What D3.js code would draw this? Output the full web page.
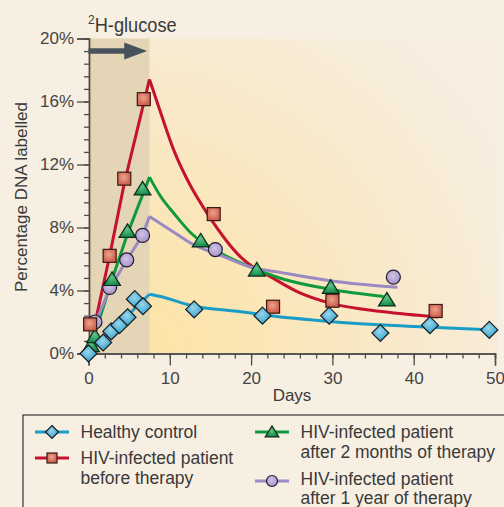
<!DOCTYPE html>
<html><head><meta charset="utf-8">
<script src="https://cdn.jsdelivr.net/npm/d3@7"></script>
<style>
html,body{margin:0;padding:0;background:#f7efe2;}
svg{display:block;font-family:"Liberation Sans",Arial,Helvetica,sans-serif;}
</style></head><body>
<svg id="chart" width="504" height="507"></svg>
<script>
// ---------- DATA ----------
const xTicks = [0, 10, 20, 30, 40, 50];
const yTicks = [0, 4, 8, 12, 16, 20];
const labelPeriodEnd = 7.5; // days of 2H-glucose labelling

const healthyPts = [[0,0],[1.8,0.7],[2.8,1.4],[3.8,1.8],[4.8,2.3],[5.7,3.45],[6.7,3.0],[13,2.8],[21.4,2.4],[29.6,2.4],[35.9,1.3],[42,1.8],[49.3,1.5]];
const healthyCurve = [[0,0],[7.5,3.76],[9,3.6],[12.6,3.05],[18.7,2.65],[25,2.25],[30,2.02],[40,1.72],[50,1.49]];

const beforePts = [[0.2,1.85],[2.6,6.2],[4.4,11.1],[6.8,16.15],[15.4,8.85],[22.7,2.97],[30,3.35],[42.7,2.7]];
const beforeCurve = [[0,0],[2.6,6.2],[4.4,10.8],[7.5,17.4],[8.9,15.25],[10.5,12.9],[12.6,10.6],[14.6,8.9],[18.7,6.14],[19.9,5.62],[22.3,4.9],[26,3.85],[29.7,3.2],[36.3,2.65],[43,2.32]];

const twoMonthPts = [[0.3,0.5],[0.8,1.07],[2.9,4.7],[4.8,7.75],[6.65,10.45],[13.8,7.15],[20.7,5.3],[29.8,4.2],[36.7,3.4]];
const twoMonthCurve = [[0,0],[2.9,4.7],[4.8,7.6],[7.5,11.2],[8.9,9.95],[10.5,8.9],[12.6,7.65],[16.7,6.25],[19.9,5.5],[23.6,4.78],[29.7,4.08],[36.3,3.62]];

const oneYearPts = [[0.8,2.0],[2.6,4.2],[4.7,5.94],[6.65,7.5],[15.6,6.6],[37.5,4.85]];
const oneYearCurve = [[0,0],[0.8,1.9],[2.6,4.1],[4.7,5.94],[6.65,7.5],[7.5,8.7],[10.5,7.7],[12.6,7.0],[16.7,6.14],[19.9,5.5],[23.6,5.15],[29.7,4.62],[38,4.2]];

const seriesNames = ["Healthy control","HIV-infected patient|before therapy","HIV-infected patient|after 2 months of therapy","HIV-infected patient|after 1 year of therapy"];

// ---------- SETUP ----------
const svg = d3.select("#chart");
const x = d3.scaleLinear().domain([0,50]).range([88.5,495]);
const y = d3.scaleLinear().domain([0,20]).range([353.5,38.5]);

const defs = svg.append("defs");
const bg = defs.append("radialGradient").attr("id","plotbg")
  .attr("gradientUnits","userSpaceOnUse").attr("cx",130).attr("cy",360).attr("r",420);
bg.append("stop").attr("offset","0").attr("stop-color","#fde3a4");
bg.append("stop").attr("offset","0.55").attr("stop-color","#f9e8c4");
bg.append("stop").attr("offset","1").attr("stop-color","#f7eee0");

function grad(id, c0, c1){
  const g = defs.append("radialGradient").attr("id",id).attr("cx","45%").attr("cy","40%").attr("r","60%");
  g.append("stop").attr("offset","0").attr("stop-color",c0);
  g.append("stop").attr("offset","1").attr("stop-color",c1);
}
grad("gBlue","#9ad6ec","#32a2cc");
grad("gRed","#eca48e","#cc5a48");
grad("gGreen","#5cc488","#14894a");
grad("gPurple","#d2c4e6","#a493c8");

// plot area background
svg.append("rect").attr("x",x(0)).attr("y",y(20)).attr("width",498-x(0)).attr("height",y(0)-y(20)).attr("fill","url(#plotbg)");
svg.append("rect").attr("x",x(0)).attr("y",y(20)).attr("width",x(labelPeriodEnd)-x(0)).attr("height",y(0)-y(20)).attr("fill","#e3d5b6");

// arrow
const ay = 51;
svg.append("line").attr("x1",x(0)).attr("x2",x(4.8)).attr("y1",ay).attr("y2",ay).attr("stroke","#48525c").attr("stroke-width",5.5);
svg.append("path").attr("d",`M${x(4.4)},${ay-8.5} L${x(7.2)},${ay} L${x(4.4)},${ay+8.5} Z`).attr("fill","#48525c");

// title text
const t = svg.append("text").attr("x",88).attr("y",32).attr("font-size",20).attr("fill","#3a3a3a");
t.append("tspan").attr("font-size",12).attr("dy",-8).text("2");
t.append("tspan").attr("dy",8).attr("textLength",82).attr("lengthAdjust","spacingAndGlyphs").text("H-glucose");

// axes
const axisColor = "#4d4d4d";
function styleAxis(g){
  g.selectAll("path.domain").attr("stroke",axisColor).attr("stroke-width",1.4);
  g.selectAll(".tick line").attr("stroke",axisColor).attr("stroke-width",1.3);
  g.selectAll(".tick text").attr("fill","#444").attr("font-size",17).attr("font-family","Liberation Sans, Arial, sans-serif");
}
const gyMinor = svg.append("g").attr("transform",`translate(${x(0)+0.5},0)`)
  .call(d3.axisLeft(y).tickValues(d3.range(0,20.01,0.8)).tickSize(5).tickFormat(""));
styleAxis(gyMinor);
const gy = svg.append("g").attr("transform",`translate(${x(0)+0.5},0)`)
  .call(d3.axisLeft(y).tickValues(yTicks).tickSize(12).tickPadding(3).tickFormat(d=>d+"%"));
styleAxis(gy);
const gxMinor = svg.append("g").attr("transform",`translate(0,${y(0)})`)
  .call(d3.axisBottom(x).tickValues(d3.range(0,50.01,2)).tickSize(5).tickFormat(""));
styleAxis(gxMinor);
const gx = svg.append("g").attr("transform",`translate(0,${y(0)})`)
  .call(d3.axisBottom(x).tickValues(xTicks).tickSize(12).tickPadding(6));
styleAxis(gx);

svg.append("text").attr("x",292).attr("y",401).attr("text-anchor","middle").attr("font-size",17).attr("fill","#3a3a3a").text("Days");
svg.append("text").attr("transform","translate(27,197) rotate(-90)").attr("text-anchor","middle").attr("font-size",17).attr("fill","#3a3a3a").text("Percentage DNA labelled");

// curves
const colors = ["#1a9cc9","#c4122f","#109a3c","#9a89c2"];
const curves = [healthyCurve, beforeCurve, twoMonthCurve, oneYearCurve];
const riseLine = d3.line().x(d=>x(d[0])).y(d=>y(d[1]));
const decayLine = d3.line().x(d=>x(d[0])).y(d=>y(d[1])).curve(d3.curveMonotoneX);
curves.forEach((c,i)=>{
  const rise = c.filter(d=>d[0]<=labelPeriodEnd);
  const decay = c.filter(d=>d[0]>=labelPeriodEnd);
  svg.append("path").attr("d",riseLine(rise)).attr("fill","none").attr("stroke",colors[i]).attr("stroke-width",3);
  svg.append("path").attr("d",decayLine(decay)).attr("fill","none").attr("stroke",colors[i]).attr("stroke-width",3);
});

// markers
const strokeC = "#1c1c1c";
function diamond(g,cx,cy,s){ g.append("path").attr("d",`M${cx},${cy-s} L${cx+s},${cy} L${cx},${cy+s} L${cx-s},${cy} Z`).attr("fill","url(#gBlue)").attr("stroke",strokeC).attr("stroke-width",1.2); }
function square(g,cx,cy,s){ g.append("rect").attr("x",cx-s).attr("y",cy-s).attr("width",2*s).attr("height",2*s).attr("fill","url(#gRed)").attr("stroke","#3a1a14").attr("stroke-width",1.2); }
function triangle(g,cx,cy,s){ g.append("path").attr("d",`M${cx},${cy-s*0.95} L${cx+s*1.05},${cy+s*0.75} L${cx-s*1.05},${cy+s*0.75} Z`).attr("fill","url(#gGreen)").attr("stroke","#0e2a18").attr("stroke-width",1.2); }
function circle(g,cx,cy,s){ g.append("circle").attr("cx",cx).attr("cy",cy).attr("r",s).attr("fill","url(#gPurple)").attr("stroke","#241c30").attr("stroke-width",1.2); }

const mg = svg.append("g");
oneYearPts.forEach(d=>circle(mg,x(d[0]),y(d[1]),7));
twoMonthPts.forEach(d=>triangle(mg,x(d[0]),y(d[1]),8));
beforePts.forEach(d=>square(mg,x(d[0]),y(d[1]),6.5));
healthyPts.forEach(d=>diamond(mg,x(d[0]),y(d[1]),8.5));

// legend
const lg = svg.append("g");
lg.append("rect").attr("x",23).attr("y",415).attr("width",500).attr("height",100).attr("fill","none").attr("stroke","#333").attr("stroke-width",1.2);
const legendItems = [
  {sx:35, sy:432, ty:[438], fn:(g,cx,cy)=>diamond(g,cx,cy,6.5)},
  {sx:35, sy:458, ty:[463.5,484], fn:(g,cx,cy)=>square(g,cx,cy,5)},
  {sx:255, sy:432, ty:[438,457.5], fn:(g,cx,cy)=>triangle(g,cx,cy,6.5)},
  {sx:255, sy:481, ty:[485,504], fn:(g,cx,cy)=>circle(g,cx,cy,5.5)}
];
legendItems.forEach((it,i)=>{
  lg.append("line").attr("x1",it.sx).attr("x2",it.sx+34).attr("y1",it.sy).attr("y2",it.sy).attr("stroke",colors[i]).attr("stroke-width",3);
  it.fn(lg,it.sx+17,it.sy);
  const lines = seriesNames[i].split("|");
  lines.forEach((s,j)=>{
    lg.append("text").attr("x",it.sx+45.5).attr("y",it.ty[j]).attr("font-size",17.5).attr("fill","#3a3a3a").text(s);
  });
});
</script>
</body></html>
